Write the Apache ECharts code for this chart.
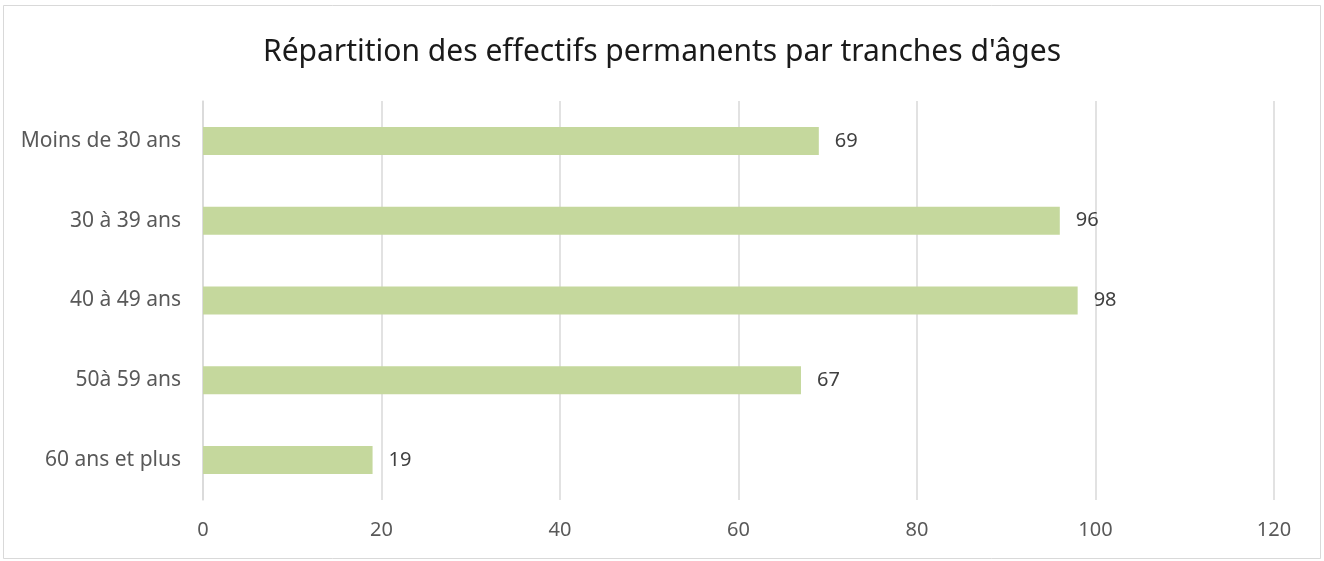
<!DOCTYPE html>
<html><head><meta charset="utf-8">
<script src="https://cdn.jsdelivr.net/npm/echarts@6/dist/echarts.min.js"></script>
<style>html,body{margin:0;padding:0;background:#fff}#c{width:1324px;height:561px}</style>
</head><body><div id="c"></div>
<script>
const categories = ['Moins de 30 ans', '30 à 39 ans', '40 à 49 ans', '50à 59 ans', '60 ans et plus'];
const values = [69, 96, 98, 67, 19];
const xTicks = [0, 20, 40, 60, 80, 100, 120];
const titleText = "Répartition des effectifs permanents par tranches d'âges";

const FONT = 'Noto Sans';
const chart = echarts.init(document.getElementById('c'), null, {renderer: 'canvas'});
chart.setOption({
  animation: false,
  backgroundColor: '#fff',
  graphic: [{type: 'rect', shape: {x: 3.5, y: 5.5, width: 1317, height: 553}, style: {fill: 'none', stroke: '#d9d9d9', lineWidth: 1}, silent: true}],
  title: {text: titleText, left: 'center', top: 32, textStyle: {fontFamily: FONT, fontSize: 30, fontWeight: 'normal', color: '#1a1a1a'}},
  grid: {left: 203, right: 50, top: 101, bottom: 61, containLabel: false},
  xAxis: {
    type: 'value', min: xTicks[0], max: xTicks[xTicks.length - 1], interval: 20,
    axisLine: {show: false}, axisTick: {show: false},
    axisLabel: {fontFamily: FONT, fontSize: 20, color: '#595959', margin: 20},
    splitLine: {lineStyle: {color: '#d9d9d9', width: 1.5}}
  },
  yAxis: {
    type: 'category', data: categories, inverse: true,
    axisLine: {lineStyle: {color: '#d9d9d9', width: 1.5}}, axisTick: {show: false},
    axisLabel: {fontFamily: FONT, fontSize: 21, color: '#595959', margin: 22}
  },
  series: [{
    type: 'bar', data: values, barWidth: 28,
    itemStyle: {color: '#c5d89d'},
    label: {show: true, position: 'right', distance: 16, fontFamily: FONT, fontSize: 20, color: '#404040'}
  }]
});
</script></body></html>
